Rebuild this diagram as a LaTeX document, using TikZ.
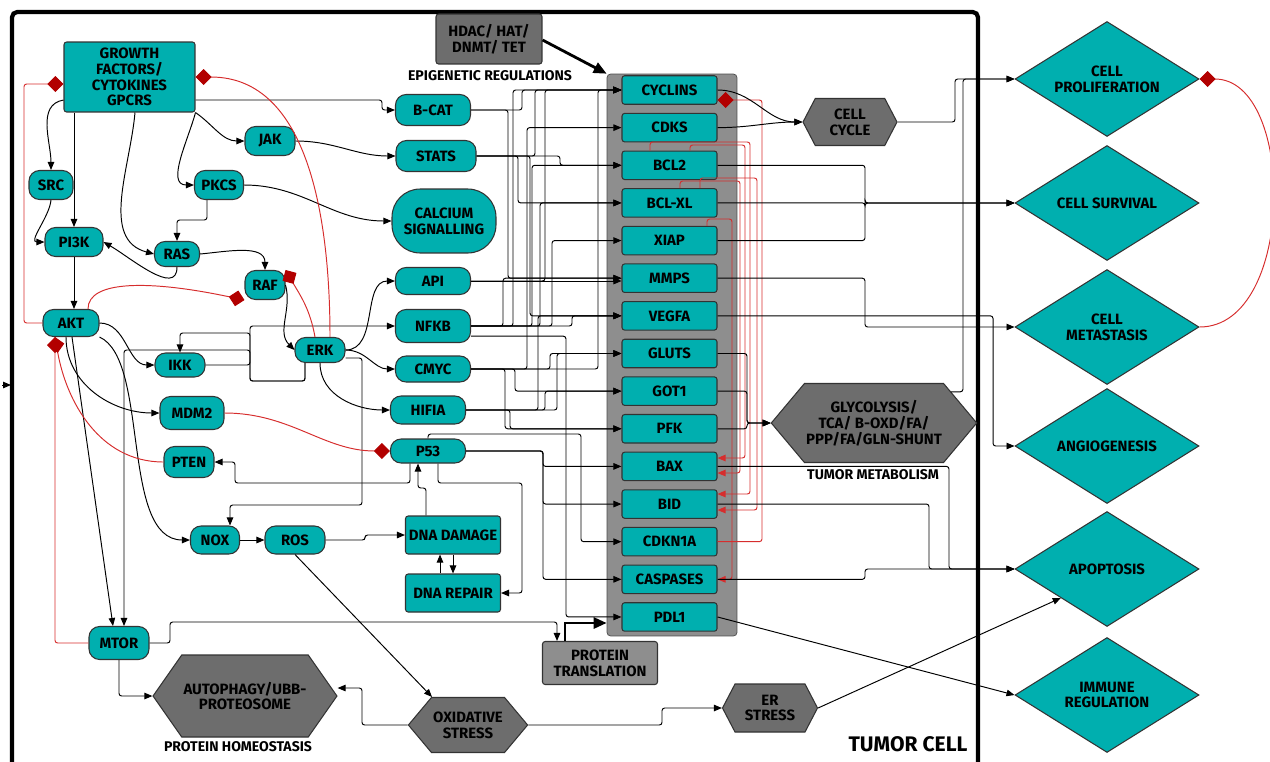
\documentclass[tikz,border=0pt]{standalone}
\usepackage{fontspec}
\setmainfont{Fira Sans}
\usetikzlibrary{arrows.meta, shapes.geometric, shapes.symbols}
\definecolor{tealc}{RGB}{0,175,175}
\definecolor{hexg}{RGB}{109,109,109}
\definecolor{boxg}{RGB}{142,142,142}
\definecolor{inhr}{RGB}{178,0,0}
\definecolor{linr}{RGB}{214,45,45}
\newcommand{\gfont}{\fontsize{8.5}{9}\selectfont\bfseries}
\tikzset{
  gblk/.style={draw=black!80, fill=tealc, align=center, font=\gfont,
               inner sep=1pt, line width=0.6pt},
  gpill/.style={gblk, rounded corners=6pt},
  gbox/.style={gblk, rounded corners=1.5pt},
  gene/.style={gbox, minimum width=1.9cm, minimum height=0.57cm},
  ghex/.style={gblk, fill=hexg, signal, signal to=east and west},
  gdia/.style={gblk, diamond, aspect=1.6, inner sep=0pt,
               minimum width=3.68cm, minimum height=2.3cm},
  glab/.style={font=\fontsize{8}{9}\selectfont\bfseries},
  gar/.style={-{Triangle[length=1.6mm, width=1.3mm]}, line width=0.55pt, rounded corners=1.5pt},
  gred/.style={gar, draw=linr},
  ginh/.style={-{Diamond[length=3.2mm, width=3.2mm, color=inhr]}, draw=linr,
               line width=0.55pt, rounded corners=1.5pt},  % inhibition
  gthick/.style={-{Triangle[length=2.6mm, width=2.2mm]}, line width=1.6pt},
}
\begin{document}
\begin{tikzpicture}[x=0.02cm, y=-0.02cm]
\useasboundingbox (0,0) rectangle (1270,761);
% tumor cell
\draw[line width=2.4pt, rounded corners=3pt] (12,775) -- (12,12) -- (978,12) -- (978,775);
\coordinate (ext) at (2,385);
\draw[gar] (ext) -- (11,385);

% gene box
\node[draw=black!70, fill=boxg, rounded corners=2pt, minimum width=2.6cm,
      minimum height=11.24cm, inner sep=0] (tgt) at (672,355) {};
\foreach \n/\t [count=\i from 0] in {cyc/CYCLINS, cdk/CDKS, bcl2/BCL2, bclxl/BCL-XL,
    xiap/XIAP, mmp/MMPS, vegf/VEGFA, glut/GLUTS, got/GOT1, pfk/PFK, bax/BAX,
    bid/BID, cdkn/CDKN1A, casp/CASPASES, pdl/PDL1}
  \node[gene] (\n) at (669.5, 90+37.64*\i) {\t};

% signalling
\node[gbox, minimum width=2.62cm, minimum height=1.4cm] (gf) at (129.5,77) {GROWTH\\FACTORS/\\CYTOKINES\\GPCRS};
\node[gpill, minimum width=0.88cm, minimum height=0.58cm] (src) at (51,185) {SRC};
\node[gpill, minimum width=1.16cm, minimum height=0.58cm] (pik) at (74,242) {PI3K};
\node[gpill, minimum width=0.9cm, minimum height=0.5cm] (ras) at (177,254) {RAS};
\node[gpill, minimum width=1cm, minimum height=0.58cm] (jak) at (270,141) {JAK};
\node[gpill, minimum width=0.98cm, minimum height=0.58cm] (pkcs) at (219,185) {PKCS};
\node[gpill, minimum width=0.8cm, minimum height=0.58cm] (raf) at (265,285) {RAF};
\node[gpill, minimum width=1.12cm, minimum height=0.54cm] (akt) at (71,323) {AKT};
\node[gpill, minimum width=1cm, minimum height=0.5cm] (erk) at (320,350) {ERK};
\node[gpill, minimum width=1cm, minimum height=0.48cm] (ikk) at (180,365) {IKK};
\node[gpill, minimum width=1.28cm, minimum height=0.66cm] (mdm) at (192,413) {MDM2};
\node[gpill, minimum width=1cm, minimum height=0.62cm] (pten) at (189,462) {PTEN};
\node[gpill, minimum width=0.98cm, minimum height=0.56cm] (nox) at (215,540) {NOX};
\node[gpill, minimum width=1.2cm, minimum height=0.56cm] (ros) at (295,540) {ROS};
\node[gpill, minimum width=1.2cm, minimum height=0.66cm] (mtor) at (119,643) {MTOR};
\node[gpill, minimum width=1.5cm, minimum height=0.62cm] (bcat) at (433,110) {B-CAT};
\node[gpill, minimum width=1.6cm, minimum height=0.62cm] (stats) at (436,156) {STATS};
\node[gblk, rounded corners=16pt, minimum width=2.08cm, minimum height=1.28cm] (calc) at (444,221) {CALCIUM\\SIGNALLING};
\node[gpill, minimum width=1.5cm, minimum height=0.54cm] (api) at (433,281) {API};
\node[gpill, minimum width=1.5cm, minimum height=0.66cm] (nfkb) at (433,326) {NFKB};
\node[gpill, minimum width=1.5cm, minimum height=0.52cm] (cmyc) at (433,369) {CMYC};
\node[gpill, minimum width=1.5cm, minimum height=0.56cm] (hifia) at (428,410) {HIFIA};
\node[gpill, minimum width=1.5cm, minimum height=0.48cm] (p53) at (428,451) {P53};
\node[gbox, minimum width=1.9cm, minimum height=0.76cm] (dnad) at (453,535) {DNA DAMAGE};
\node[gbox, minimum width=1.9cm, minimum height=0.76cm] (dnar) at (453,593) {DNA REPAIR};
\node[gbox, fill=hexg, minimum width=2.12cm, minimum height=1cm] (hdac) at (489,39) {HDAC/ HAT/\\DNMT/ TET};
\node[gbox, fill=boxg, minimum width=2.3cm, minimum height=0.86cm] (ptr) at (600,663) {PROTEIN\\TRANSLATION};

% hexagons
\node[ghex, signal pointer angle=110, minimum width=2.98cm, minimum height=1.64cm] (auto) at (245,696) {AUTOPHAGY/UBB-\\PROTEOSOME};
\node[ghex, signal pointer angle=100, minimum width=2.3cm, minimum height=1.1cm] (ox) at (468,725) {OXIDATIVE\\STRESS};
\node[ghex, signal pointer angle=125, minimum width=1.9cm, minimum height=0.96cm] (er) at (770,708) {ER\\STRESS};
\node[ghex, signal pointer angle=125, minimum width=1.88cm, minimum height=0.94cm] (cc) at (850,122) {CELL\\CYCLE};
\node[ghex, signal pointer angle=100, minimum width=3.76cm, minimum height=1.58cm] (glyc) at (874,423) {GLYCOLYSIS/\\TCA/ B-OXD/FA/\\PPP/FA/GLN-SHUNT};

% outcomes
\node[gdia] (prol) at (1107,79) {CELL\\PROLIFERATION};
\node[gdia] (surv) at (1107,203) {CELL SURVIVAL};
\node[gdia] (meta) at (1107,327) {CELL\\METASTASIS};
\node[gdia] (angio) at (1107,446) {ANGIOGENESIS};
\node[gdia] (apop) at (1107,569) {APOPTOSIS};
\node[gdia] (immu) at (1107,695) {IMMUNE\\REGULATION};

\node[glab] (epi) at (490,76) {EPIGENETIC REGULATIONS};
\node[glab] (phom) at (238,747) {PROTEIN HOMEOSTASIS};
\node[glab] (tmet) at (873,475) {TUMOR METABOLISM};
\node[font=\fontsize{12}{13}\selectfont\bfseries] (tcell) at (908,744) {TUMOR CELL};

% upstream
\draw[gar] (gf.west |- 0,100) to[out=190,in=90] (src.north);
\draw[gar] (gf.south -| pik.north) -- (pik.north);
\draw[gar] (gf.south -| 135,0) to[out=-95,in=165] (ras.west);
\draw[gar] (gf.south east) to[out=-105,in=180] (pkcs.west);
\draw[gar] (gf.south east) to[out=-35,in=180] (jak.west);
\draw[gar] (gf.east |- 0,100) -- (382,100) |- (bcat.west);
\draw[gar] (src.south) to[out=-95,in=180] (pik.west);
\draw[gar] (pkcs.south -| 207,0) |- (177,220) -- (ras.north);
\draw[gar] (ras.south) to[out=-90,in=-30] (pik.east);
\draw[gar] (ras.east) to[out=5,in=90] (raf.north);
\draw[gar] (pik.south) -- (pik.south |- akt.north);
\draw[gar] (raf.east) to[out=-75,in=135] (erk.west);
\draw[gar] (jak.east) to[out=0,in=180] (stats.west);
\draw[gar] (pkcs.east) to[out=0,in=180] (calc.west);
\draw[gar] (akt.east) to[out=0,in=180] (ikk.west);
\draw[gar] (akt.south -| 66,0) to[out=-90,in=180] (mdm.west);
\draw[gar] (akt.south -| 72,0) -- (mtor.north -| 113,0);
\draw[gar] (akt.south east) .. controls (150,360) and (120,540) .. (nox.west);
\draw[gar] (erk.south -| 305,0) |- (250,381) |- (124,350) -- (mtor.north -| 124,0);
\draw[gar] (erk.south -| 305,0) |- (250,381) |- (180,333) -- (ikk.north);
\draw[gar] (ikk.east) -| (250,326) -- (nfkb.west);
\draw[gar] (erk.east) to[out=0,in=180] (api.west);
\draw[gar] (erk.east) to[out=0,in=180] (cmyc.west);
\draw[gar] (erk.south) to[out=-90,in=180] (hifia.west);
\draw[gar] (erk.east |- 0,358) -| (362,505) -| (nox.north -| 230,0);
\draw[gar] (p53.south -| 410,0) |- (235,483) |- (pten.east);
\draw[gar] (nox) -- (ros);
\draw[gar] (ros.east) -- (365,540) |- (dnad.west);
\draw[gar] (ros.south) -- (ox.north -| 432,0);
\draw[gar] (dnad.north -| 426,0) |- (418,488) -- (p53.south -| 418,0);
\draw[gar] (dnar.north -| 440,0) -- (dnad.south -| 440,0);
\draw[gar] (dnad.south -| 453,0) -- (dnar.north -| 453,0);
\draw[gar] (p53.south -| 438,0) |- (522,483) |- (dnar.east);
\draw[gar] (mtor.east) -| (170,622) -| (ptr.north -| 557,0);
\draw[gar] (mtor.south) |- (auto.west);
\draw[gar] (ox.west) -| (362,688) -- (auto.east |- 0,688);
\draw[gar] (ox.east) -| (662,708) -- (er.west);
\draw[gar] (er.east) -- (apop.south west);
\draw[gar] (pdl.east) -- (immu.west);
\draw[gthick] (ptr.north -| 565,0) |- (tgt.west |- 0,623);
\draw[gthick] (hdac.east |- 0,40) -- (tgt.north west);

% transcription factors -> genes
\foreach \s/\t/\c in {bcat/cyc/522, bcat/mmp/508, stats/cyc/535, stats/bcl2/560,
    stats/bclxl/518, stats/vegf/530, api/cyc/545, nfkb/cyc/513, nfkb/bcl2/532,
    nfkb/bclxl/540, nfkb/xiap/552, nfkb/mmp/503, nfkb/vegf/572, cmyc/cyc/598,
    cmyc/cdk/527, cmyc/glut/550, cmyc/got/515, cmyc/pfk/505, hifia/vegf/538,
    hifia/glut/557, hifia/got/545, hifia/pfk/510, p53/bax/543, p53/bid/543,
    p53/casp/543} {
  \coordinate (col) at (\c,0);
  \draw[gar] (\s.east) -| (col |- \t.west) -- (\t.west);
}
\draw[gar] (api.east) -- (mmp.west |- api.east);
\draw[gar] (nfkb.-15) -| (pdl.west -| 566,0) -- (pdl.west);
\draw[gar] (p53.north) |- (581,434) |- (cdkn.west);

% inhibition
\draw[ginh] (akt.west) -| (24,84) -- (gf.west |- 0,84);
\draw[ginh] (erk.north -| 330,0) to[out=90,in=0] (gf.east);
\draw[ginh] (akt.north -| 88,0) .. controls (88,280) and (150,280) .. (raf.south west);
\draw[ginh] (erk.north -| 315,0) to[out=100,in=-60] (raf.north east);
\draw[ginh] (mdm.east) to[out=0,in=180] (p53.west);
\draw[ginh] (pten.west) to[out=180,in=-80] (akt.south -| 55,0);
\draw[ginh] (mtor.west) -| (akt.south -| 55,0);
\draw[ginh] (cdkn.east) -| (762,100) -- (cyc.east |- 0,100);
\draw[ginh] (meta.east) to[out=0,in=0] (prol.east);
\draw[gred] (bcl2.north -| 690,0) |- (745,145) |- (bax.east |- 0,458);
\draw[gred] (bclxl.north -| 680,0) |- (740,181) |- (bax.east |- 0,473);
\draw[gred] (bcl2.north -| 650,0) |- (750,142) |- (bid.east |- 0,494);
\draw[gred] (bclxl.north -| 700,0) |- (757,178) |- (bid.east |- 0,510);
\draw[gred] (xiap.north -| 707,0) |- (732,219) |- (casp.east);

% outputs
\draw[gar] (cyc.east) to[out=0,in=180] (cc.west);
\draw[gar] (cdk.east) to[out=0,in=180] (cc.west);
\draw[gar] (cc.east) -| (955,79) -- (prol.west);
\draw[gar] (glyc.22) -| (963,79) -- (prol.west);
\draw[gar] (bcl2.east) -| (865,203) -- (surv.west);
\draw[gar] (bclxl.east) -| (865,203) -- (surv.west);
\draw[gar] (xiap.east) -| (865,203) -- (surv.west);
\draw[gar] (mmp.east) -| (865,327) -- (meta.west);
\draw[gar] (vegf.east) -| (993,446) -- (angio.west);
\draw[gar] (glut.east) -| (747,423) -- (glyc.west);
\draw[gar] (got.east) -| (747,423) -- (glyc.west);
\draw[gar] (pfk.east) -| (747,423) -- (glyc.west);
\draw[gar] (bax.east) -| (949,569) -- (apop.west);
\draw[gar] (bid.east) -| (929,569) -- (apop.west);
\draw[gar] (casp.east) -| (865,569) -- (apop.west);
\end{tikzpicture}
\end{document}
